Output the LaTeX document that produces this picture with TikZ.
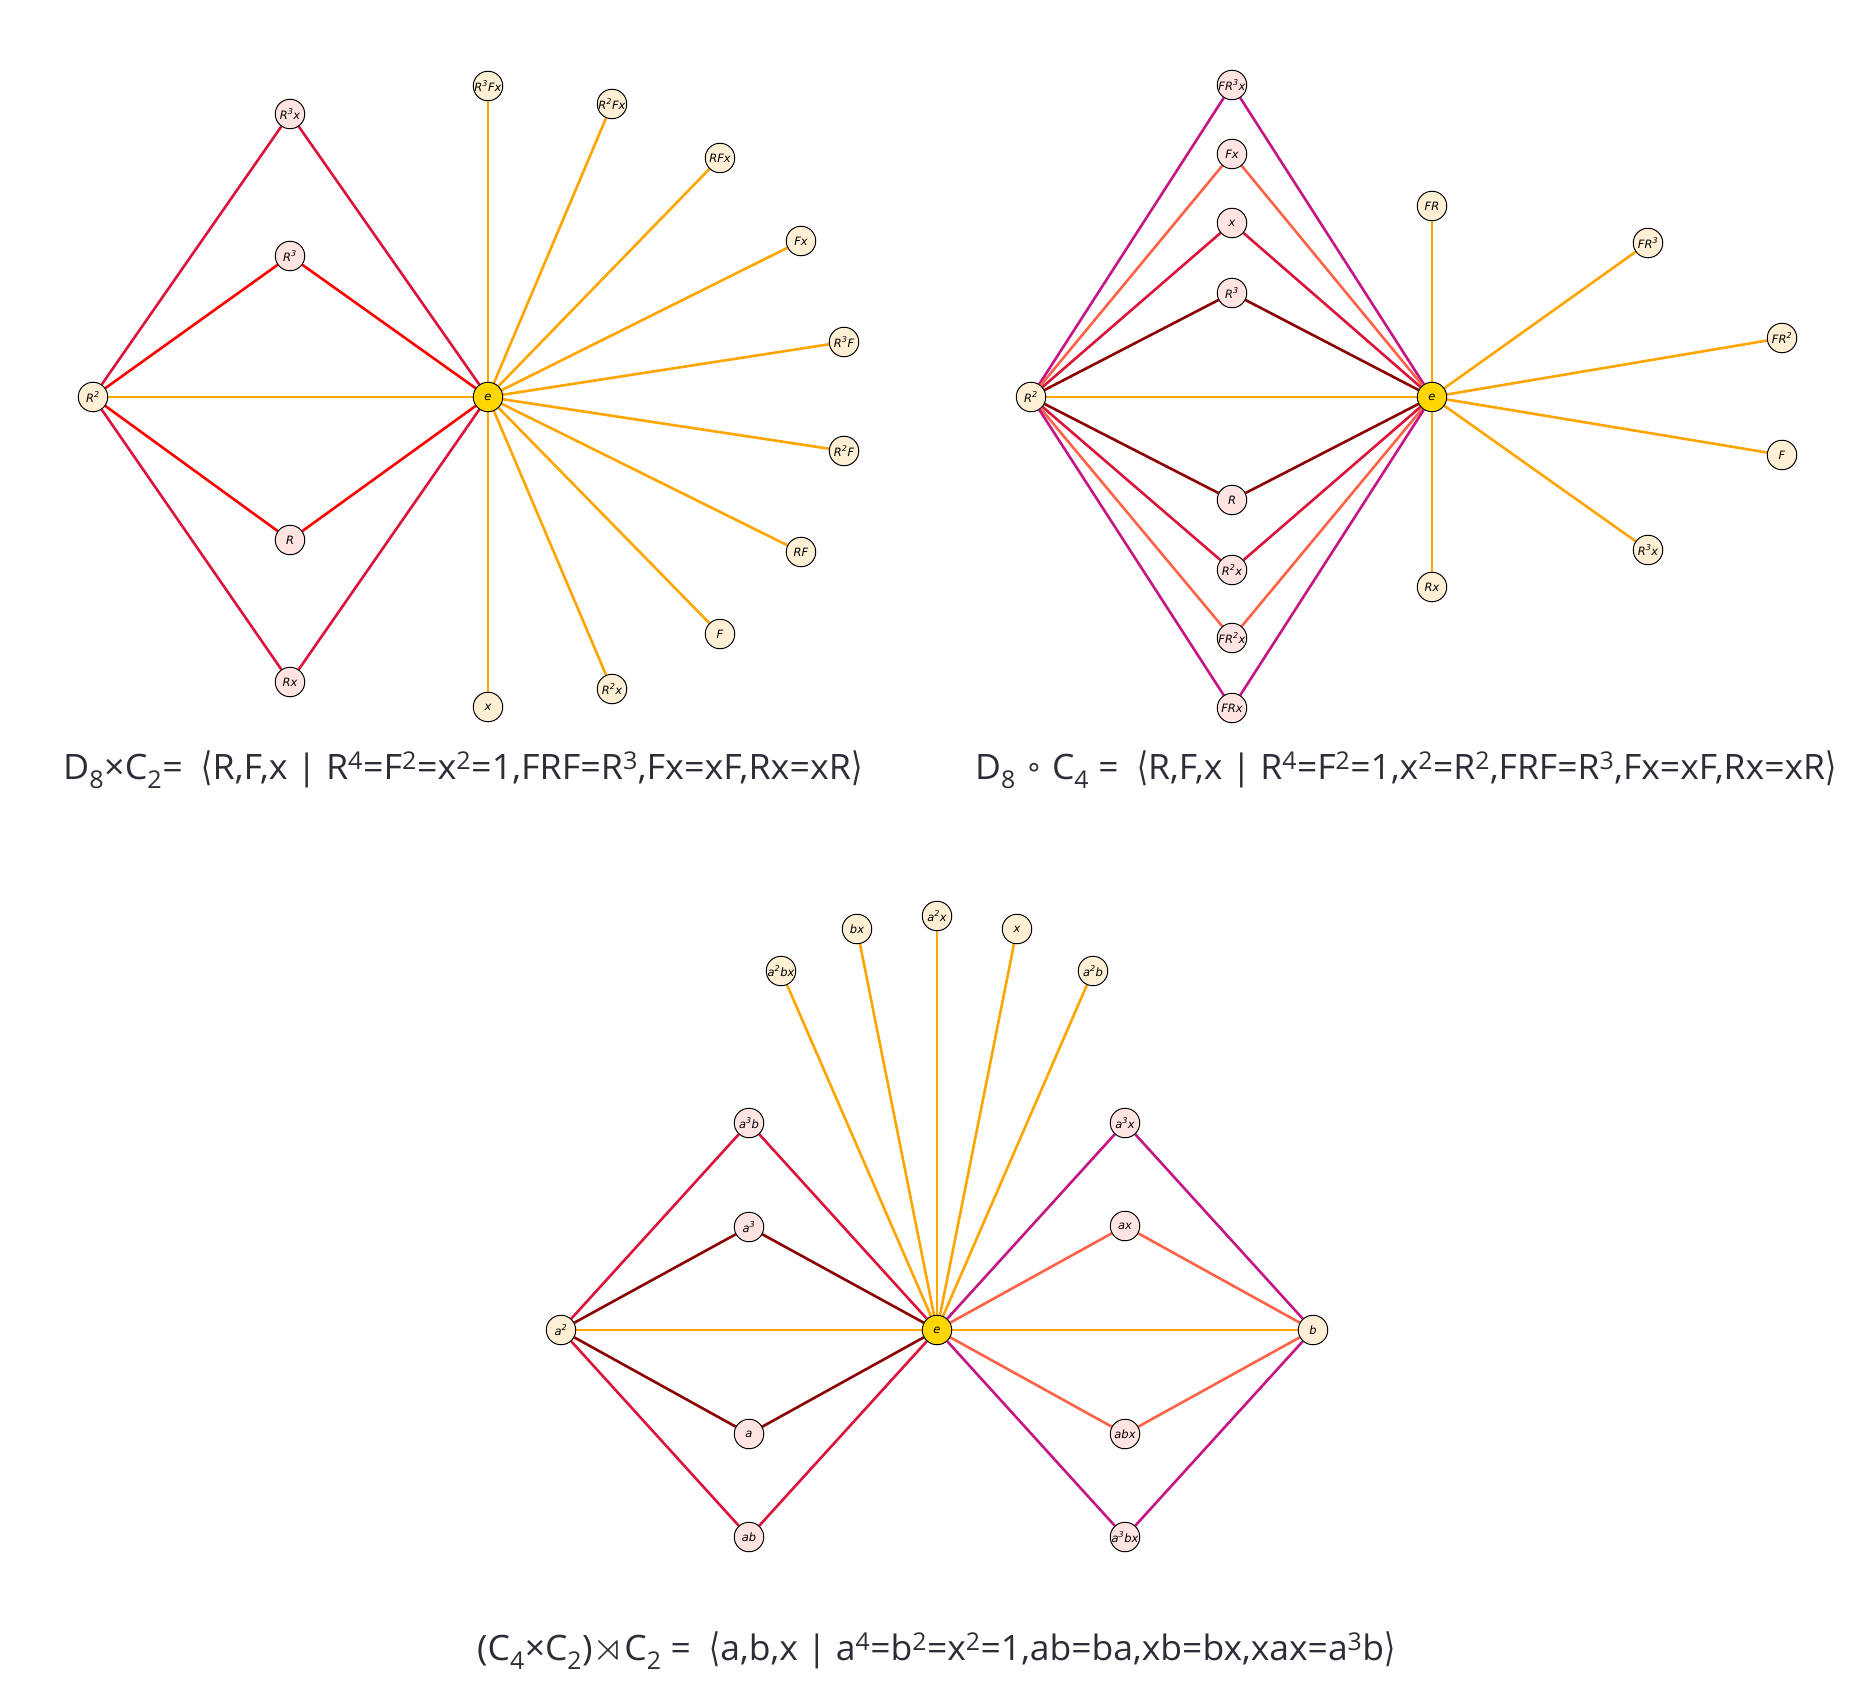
\documentclass[tikz,border=0pt]{standalone}
\usepackage{fontspec}
\usepackage{amssymb}
\usepackage{graphicx}
\setmainfont{Open Sans}
\newfontfamily\nodefont{DejaVu Sans}
\usetikzlibrary{backgrounds}
\definecolor{cOrange}{HTML}{FFA500}
\definecolor{cCrimson}{HTML}{DC143C}
\definecolor{cRed}{HTML}{FF0000}
\definecolor{cMvr}{HTML}{C71585}
\definecolor{cTomato}{HTML}{FF6347}
\definecolor{cDark}{HTML}{8B0000}
\definecolor{fPink}{HTML}{FFE4E1}
\definecolor{fLight}{HTML}{FFEFD5}
\definecolor{fGold}{HTML}{FFD700}
\definecolor{capText}{HTML}{2D2D37}
\newcommand\mysup[1]{\textsuperscript{#1}}
\newcommand\mysub[1]{\textsubscript{#1}}
\newcommand\lang{{\nodefont\raisebox{-0.05em}{\scalebox{0.8}[1.12]{⟨}}}}
\newcommand\rang{{\nodefont\raisebox{-0.05em}{\scalebox{0.8}[1.12]{⟩}}}}
\newcommand\comp{{\nodefont\raisebox{0.06em}{\scalebox{0.8}{∘}}}}
\newcommand\semid{\scalebox{1.15}{$\rtimes$}}
\tikzset{
  gnode/.style={circle, draw=black, line width=1pt, minimum size=29.5pt, inner sep=0pt,
    font=\nodefont\itshape\fontsize{11.5}{13}\selectfont},
  nlt/.style={gnode, fill=fLight},
  npk/.style={gnode, fill=fPink},
  nid/.style={gnode, fill=fGold},
  eOr/.style={draw=cOrange, line width=2.6pt},
  eCr/.style={draw=cCrimson, line width=2.6pt},
  eRd/.style={draw=cRed, line width=2.6pt},
  eMv/.style={draw=cMvr, line width=2.6pt},
  eTo/.style={draw=cTomato, line width=2.6pt},
  eDk/.style={draw=cDark, line width=2.6pt},
  captxt/.style={anchor=base west, inner sep=0pt, text=capText,
    font=\fontsize{35}{40}\selectfont}
}
\begin{document}
\begin{tikzpicture}[x=1pt,y=-1pt]
\useasboundingbox (0,0) rectangle (1875,1696);
% ---------------- Diagram A ----------------
\node[nid] (Ae) at (488,397) {e};
\node[nlt] (AR2) at (93,397) {R\mysup{2}};
\node[npk] (AR3x) at (290,114) {R\mysup{3}x};
\node[npk] (AR3) at (290,256) {R\mysup{3}};
\node[npk] (AR) at (290,540) {R};
\node[npk] (ARx) at (290,682) {Rx};
\node[nlt] (AR3Fx) at (488,86) {R\mysup{3}Fx};
\node[nlt] (AR2Fx) at (612,104) {R\mysup{2}Fx};
\node[nlt] (ARFx) at (720,158) {RFx};
\node[nlt] (AFx) at (801,241) {Fx};
\node[nlt] (AR3F) at (844,342) {R\mysup{3}F};
\node[nlt] (AR2F) at (844,451) {R\mysup{2}F};
\node[nlt] (ARF) at (801,552) {RF};
\node[nlt] (AF) at (720,634) {F};
\node[nlt] (AR2xo) at (612,689) {R\mysup{2}x};
\node[nlt] (Ax) at (488,707) {x};
% ---------------- Diagram B ----------------
\node[nid] (Be) at (1432,397) {e};
\node[nlt] (BR2) at (1031,397) {R\mysup{2}};
\node[npk] (BFR3x) at (1232,85) {FR\mysup{3}x};
\node[npk] (BFx) at (1232,154) {Fx};
\node[npk] (Bx) at (1232,223) {x};
\node[npk] (BR3) at (1232,293) {R\mysup{3}};
\node[npk] (BR) at (1232,500) {R};
\node[npk] (BR2x) at (1232,570) {R\mysup{2}x};
\node[npk] (BFR2x) at (1232,638) {FR\mysup{2}x};
\node[npk] (BFRx) at (1232,708) {FRx};
\node[nlt] (BFR) at (1432,206) {FR};
\node[nlt] (BFR3) at (1648,243) {FR\mysup{3}};
\node[nlt] (BFR2) at (1782,338) {FR\mysup{2}};
\node[nlt] (BF) at (1782,455) {F};
\node[nlt] (BR3x) at (1648,550) {R\mysup{3}x};
\node[nlt] (BRx) at (1432,587) {Rx};
% ---------------- Diagram C ----------------
\node[nid] (Ce) at (937,1330) {e};
\node[nlt] (Ca2) at (561,1330) {a\mysup{2}};
\node[nlt] (Cb) at (1313,1330) {b};
\node[npk] (Ca3b) at (749,1123) {a\mysup{3}b};
\node[npk] (Ca3) at (749,1227) {a\mysup{3}};
\node[npk] (Ca) at (749,1434) {a};
\node[npk] (Cab) at (749,1537) {ab};
\node[npk] (Ca3x) at (1125,1123) {a\mysup{3}x};
\node[npk] (Cax) at (1125,1226) {ax};
\node[npk] (Cabx) at (1125,1434) {abx};
\node[npk] (Ca3bx) at (1125,1537) {a\mysup{3}bx};
\node[nlt] (Ca2bx) at (781,971) {a\mysup{2}bx};
\node[nlt] (Cbx) at (857,929) {bx};
\node[nlt] (Ca2x) at (937,916) {a\mysup{2}x};
\node[nlt] (Cx) at (1017,929) {x};
\node[nlt] (Ca2b) at (1093,971) {a\mysup{2}b};
% ---------------- Edges ----------------
\begin{scope}[on background layer]
  % A
  \draw[eCr] (AR2) -- (AR3x) -- (Ae);
  \draw[eRd] (AR2) -- (AR3) -- (Ae);
  \draw[eRd] (AR2) -- (AR) -- (Ae);
  \draw[eCr] (AR2) -- (ARx) -- (Ae);
  \draw[eOr] (AR2) -- (Ae);
  \foreach \n in {AR3Fx,AR2Fx,ARFx,AFx,AR3F,AR2F,ARF,AF,AR2xo,Ax}
    \draw[eOr] (Ae) -- (\n);
  % B
  \draw[eMv] (BR2) -- (BFR3x) -- (Be);
  \draw[eTo] (BR2) -- (BFx) -- (Be);
  \draw[eCr] (BR2) -- (Bx) -- (Be);
  \draw[eDk] (BR2) -- (BR3) -- (Be);
  \draw[eDk] (BR2) -- (BR) -- (Be);
  \draw[eCr] (BR2) -- (BR2x) -- (Be);
  \draw[eTo] (BR2) -- (BFR2x) -- (Be);
  \draw[eMv] (BR2) -- (BFRx) -- (Be);
  \draw[eOr] (BR2) -- (Be);
  \foreach \n in {BFR,BFR3,BFR2,BF,BR3x,BRx}
    \draw[eOr] (Be) -- (\n);
  % C
  \draw[eCr] (Ca2) -- (Ca3b) -- (Ce);
  \draw[eDk] (Ca2) -- (Ca3) -- (Ce);
  \draw[eDk] (Ca2) -- (Ca) -- (Ce);
  \draw[eCr] (Ca2) -- (Cab) -- (Ce);
  \draw[eMv] (Ce) -- (Ca3x) -- (Cb);
  \draw[eTo] (Ce) -- (Cax) -- (Cb);
  \draw[eTo] (Ce) -- (Cabx) -- (Cb);
  \draw[eMv] (Ce) -- (Ca3bx) -- (Cb);
  \draw[eOr] (Ca2) -- (Ce) -- (Cb);
  \foreach \n in {Ca2bx,Cbx,Ca2x,Cx,Ca2b}
    \draw[eOr] (Ce) -- (\n);
\end{scope}
% ---------------- Captions ----------------
\node[captxt] (capA) at (63,779) {\resizebox{799pt}{\height}{D\mysub{8}×C\mysub{2}= \ \lang R,F,x | R\mysup{4}=F\mysup{2}=x\mysup{2}=1,FRF=R\mysup{3},Fx=xF,Rx=xR\rang}};
\node[captxt] (capB) at (975,779) {\resizebox{861pt}{\height}{D\mysub{8} \comp{} C\mysub{4} = \ \lang R,F,x | R\mysup{4}=F\mysup{2}=1,x\mysup{2}=R\mysup{2},FRF=R\mysup{3},Fx=xF,Rx=xR\rang}};
\node[captxt] (capC) at (477,1660) {\resizebox{918pt}{\height}{(C\mysub{4}×C\mysub{2})\semid C\mysub{2} = \ \lang a,b,x | a\mysup{4}=b\mysup{2}=x\mysup{2}=1,ab=ba,xb=bx,xax=a\mysup{3}b\rang}};
\end{tikzpicture}
\end{document}
